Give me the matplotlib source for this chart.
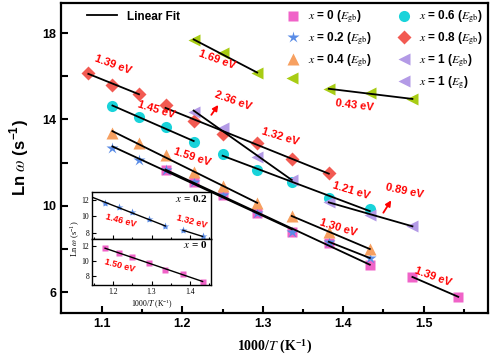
import matplotlib
matplotlib.use("Agg")
import matplotlib.pyplot as plt
import numpy as np
from matplotlib.ticker import FixedLocator, MultipleLocator, NullFormatter
from matplotlib.lines import Line2D

plt.rcParams['font.family'] = ['Liberation Sans', 'DejaVu Sans']
plt.rcParams['mathtext.fontset'] = 'stix'

# 1000/T values (K^-1)
invT = [1.083, 1.113, 1.146, 1.179, 1.214, 1.25, 1.293, 1.336, 1.382, 1.433, 1.486, 1.543]

x0_t = invT[3:12]
x0_y = [11.66, 11.10, 10.50, 9.67, 8.79, 8.28, 7.26, 6.70, 5.78]
x02_t = invT[1:10]
x02_y = [12.68, 12.12, 11.66, 11.10, 10.50, 9.67, 8.79, 8.33, 7.58]
x04_t = invT[1:10]
x04_y = [13.37, 12.90, 12.35, 11.56, 10.90, 10.13, 9.53, 8.79, 8.00]
x06_t = invT[1:10]
x06_y = [14.62, 14.11, 13.65, 12.95, 12.40, 11.66, 11.10, 10.36, 9.85]
x08_t = invT[0:9]
x08_y = [16.15, 15.60, 15.20, 14.67, 13.93, 13.32, 12.90, 12.17, 11.52]
x1gb_t = invT[4:11]
x1gb_y = [14.34, 13.60, 12.26, 11.20, 10.18, 9.57, 9.07]
x1g_t = invT[4:11]
x1g_y = [17.68, 17.07, 16.15, 15.92, 15.41, 15.22, 14.94]

# fit ranges (index slices into each series)
fits = [
    (x0_t, x0_y, [(0, 7), (7, 9)]),
    (x02_t, x02_y, [(0, 7), (7, 9)]),
    (x04_t, x04_y, [(0, 6), (6, 9)]),
    (x06_t, x06_y, [(0, 4), (4, 9)]),
    (x08_t, x08_y, [(0, 3), (3, 9)]),
    (x1gb_t, x1gb_y, [(0, 4), (4, 7)]),
    (x1g_t, x1g_y, [(0, 3), (4, 7)]),
]

# energies shown on the plot
e_labels = ["1.39 eV", "1.69 eV", "0.43 eV", "1.45 eV", "2.36 eV", "1.32 eV",
            "1.59 eV", "1.21 eV", "0.89 eV", "1.30 eV", "1.39 eV"]

c_pink = '#F063C8'
c_blue = '#5A8CE6'
c_orange = '#F7A060'
c_cyan = '#19D3DA'
c_red = '#F25A52'
c_purple = '#B39AE6'
c_green = '#A8CC14'

fig = plt.figure(figsize=(4.91, 3.62), dpi=100)
ax = fig.add_axes([0.1242, 0.1354, 0.8697, 0.8563])

series = [
    (x0_t, x0_y, 's', c_pink, 7),
    (x02_t, x02_y, '*', c_blue, 9),
    (x04_t, x04_y, '^', c_orange, 8),
    (x06_t, x06_y, 'o', c_cyan, 8),
    (x08_t, x08_y, 'D', c_red, 7),
    (x1gb_t, x1gb_y, '<', c_purple, 8),
    (x1g_t, x1g_y, '<', c_green, 8),
]
for t, y, m, c, ms in series:
    ax.plot(t, y, ls='none', marker=m, color=c, ms=ms, mec='none', zorder=2)

for t, y, segs in fits:
    t = np.array(t)
    y = np.array(y)
    for a, b in segs:
        p = np.polyfit(t[a:b], y[a:b], 1)
        tt = np.array([t[a], t[b - 1]])
        ax.plot(tt, np.polyval(p, tt), color='black', lw=1.3, zorder=3)

# energy labels
pos = [(1.114, 16.56, -20), (1.243, 16.75, -20), (1.414, 14.67, -7), (1.167, 14.44, -17),
       (1.263, 14.85, -20), (1.321, 13.19, -17), (1.212, 12.26, -18), (1.41, 10.69, -17),
       (1.476, 10.70, -12), (1.394, 8.97, -17), (1.511, 6.70, -20)]
for lab, (px, py, r) in zip(e_labels, pos):
    ax.text(px, py, lab, color='red', fontsize=8, fontweight='bold', rotation=r,
            ha='center', va='center', rotation_mode='anchor', zorder=5)

ax.annotate('', xy=(1.2466, 14.78), xytext=(1.234, 14.11),
            arrowprops=dict(arrowstyle='-|>', color='red', lw=1.3, mutation_scale=8))
ax.annotate('', xy=(1.4615, 10.36), xytext=(1.448, 9.57),
            arrowprops=dict(arrowstyle='-|>', color='red', lw=1.3, mutation_scale=8))

ax.set_xlim(1.049, 1.58)
ax.set_ylim(5.03, 19.4)
ax.xaxis.set_major_locator(FixedLocator([1.1, 1.2, 1.3, 1.4, 1.5]))
ax.xaxis.set_minor_locator(FixedLocator([1.15, 1.25, 1.35, 1.45, 1.55]))
ax.yaxis.set_major_locator(FixedLocator([6, 10, 14, 18]))
ax.yaxis.set_minor_locator(FixedLocator([8, 12, 16]))
ax.tick_params(which='both', direction='in', width=1.5, labelsize=9)
ax.tick_params(which='major', length=5)
ax.tick_params(axis='x', which='minor', length=3)
ax.tick_params(axis='y', which='minor', length=5)
for lab in ax.get_xticklabels() + ax.get_yticklabels():
    lab.set_fontweight('bold')
for s in ax.spines.values():
    s.set_linewidth(1.6)

ax.set_xlabel(r'1000/$\mathit{T}$ (K$^{\mathregular{-1}}$)', family='Liberation Serif',
              fontsize=10, fontweight='bold', labelpad=6)
ax.set_ylabel(r'Ln $\omega$ (s$^{\mathregular{-1}}$)', fontsize=12, fontweight='bold', labelpad=8)

# legends
h_fit = [Line2D([], [], color='black', lw=1.3)]
leg0 = ax.legend(h_fit, ['Linear Fit'], loc='upper left', bbox_to_anchor=(0.035, 1.01),
                 frameon=False, handlelength=2.6, prop={'weight': 'bold', 'size': 8.5})
ax.add_artist(leg0)

def mk(m, c, ms):
    return Line2D([], [], ls='none', marker=m, color=c, mec='none', ms=ms)

h1 = [mk('s', c_pink, 7), mk('*', c_blue, 9), mk('^', c_orange, 8)]
l1 = [r'$x$ = 0 ($E_{\rm gb}$)', r'$x$ = 0.2 ($E_{\rm gb}$)', r'$x$ = 0.4 ($E_{\rm gb}$)']
h2 = [mk('o', c_cyan, 8), mk('D', c_red, 7), mk('<', c_purple, 8), mk('<', c_purple, 8)]
l2 = [r'$x$ = 0.6 ($E_{\rm gb}$)', r'$x$ = 0.8 ($E_{\rm gb}$)', r'$x$ = 1 ($E_{\rm gb}$)',
      r'$x$ = 1 ($E_{\rm g}$)']
leg1 = ax.legend(h1, l1, loc='upper left', bbox_to_anchor=(0.49, 1.015), frameon=False,
                 handletextpad=0.3, labelspacing=0.45, prop={'size': 8.5, 'weight': 'bold'})
ax.add_artist(leg1)
ax.legend(h2, l2, loc='upper left', bbox_to_anchor=(0.75, 1.015), frameon=False,
          handletextpad=0.3, labelspacing=0.45, prop={'size': 8.5, 'weight': 'bold'})

# inset: two stacked panels
ins_top = fig.add_axes([0.1874, 0.3398, 0.2424, 0.1298])
ins_bot = fig.add_axes([0.1874, 0.2127, 0.2424, 0.1271])

t2 = np.array(x02_t[2:])
y2 = np.array(x02_y[2:])
ins_top.plot(t2, y2, ls='none', marker='*', color=c_blue, ms=6, mec='none', zorder=2)
p = np.polyfit(t2[:5], y2[:5], 1)
tt = np.array([1.145, t2[4]])
ins_top.plot(tt, np.polyval(p, tt), color='black', lw=1, zorder=3)
p = np.polyfit(t2[5:], y2[5:], 1)
tt = np.array([t2[5], t2[6]])
ins_top.plot(tt, np.polyval(p, tt), color='black', lw=1, zorder=3)
ins_top.text(1.221, 9.45, '1.46 eV', color='red', fontsize=6.5, fontweight='bold',
             rotation=-15, ha='center', va='center', rotation_mode='anchor')
ins_top.text(1.405, 9.33, '1.32 eV', color='red', fontsize=6.5, fontweight='bold',
             rotation=-15, ha='center', va='center', rotation_mode='anchor')
ins_top.text(0.97, 0.86, r'$\mathbf{\mathit{x}}$ = 0.2', transform=ins_top.transAxes,
             ha='right', va='center', fontsize=8, family='Liberation Serif', fontweight='bold')

t0 = np.array(x0_t[:7])
y0 = np.array(x0_y[:7])
ins_bot.plot(t0, y0, ls='none', marker='s', color=c_pink, ms=5, mec='none', zorder=2)
p = np.polyfit(t0, y0, 1)
tt = np.array([t0[0], t0[-1]])
ins_bot.plot(tt, np.polyval(p, tt), color='black', lw=1, zorder=3)
ins_bot.text(1.218, 9.33, '1.50 eV', color='red', fontsize=6.5, fontweight='bold',
             rotation=-15, ha='center', va='center', rotation_mode='anchor')
ins_bot.text(0.97, 0.87, r'$\mathbf{\mathit{x}}$ = 0', transform=ins_bot.transAxes,
             ha='right', va='center', fontsize=8, family='Liberation Serif', fontweight='bold')

ins_top.set_ylim(7.27, 12.97)
ins_bot.set_ylim(6.8, 12.9)
for a in (ins_top, ins_bot):
    a.set_xlim(1.145, 1.455)
    a.xaxis.set_major_locator(FixedLocator([1.2, 1.3, 1.4]))
    a.xaxis.set_minor_locator(MultipleLocator(0.05))
    a.yaxis.set_major_locator(FixedLocator([8, 10, 12]))
    a.tick_params(which='both', direction='in', labelsize=5.5, width=0.8, pad=2)
    a.tick_params(which='major', length=3)
    a.tick_params(which='minor', length=1.5)
    for lab in a.get_xticklabels() + a.get_yticklabels():
        lab.set_family('Liberation Serif')
    for s in a.spines.values():
        s.set_linewidth(1.0)
ins_top.xaxis.set_major_formatter(NullFormatter())
ins_bot.set_xlabel(r'1000/$\mathit{T}$ (K$^{\mathregular{-1}}$)', family='Liberation Serif',
                   fontsize=5.5, labelpad=1.5)
fig.text(0.154, 0.34, r'Ln $\omega$ (s$^{\mathregular{-1}}$)', rotation=90, ha='center', va='center',
         fontsize=6, family='Liberation Serif')

fig.savefig('out.png', dpi=100)
